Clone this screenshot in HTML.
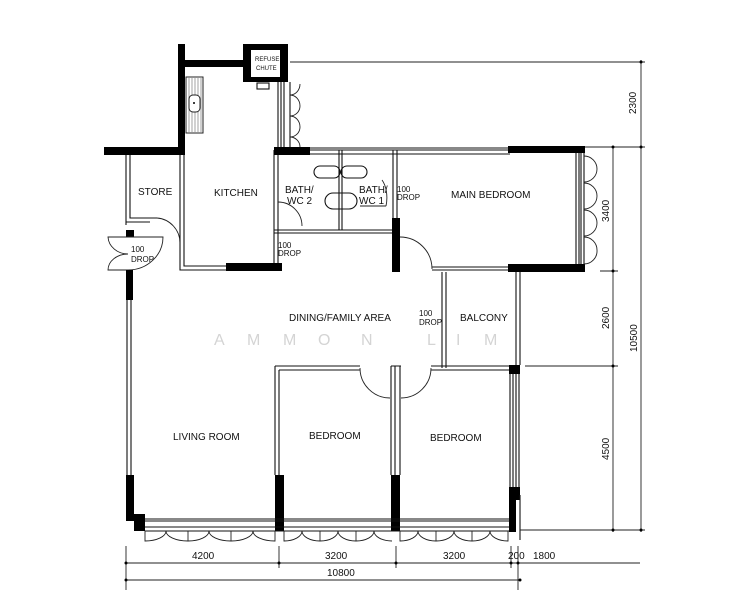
<!DOCTYPE html>
<html><head><meta charset="utf-8"><style>
html,body{margin:0;padding:0;background:#fff;}
svg{display:block;}
text{font-family:"Liberation Sans",sans-serif;font-size:10px;fill:#111;}
.l{fill:none;stroke:#111;stroke-width:1.1;}
.t{fill:none;stroke:#222;stroke-width:0.9;}
.d{fill:none;stroke:#222;stroke-width:0.9;}
.w{font-size:16px;fill:#d4d4d4;}
</style></head><body>
<svg width="735" height="600" viewBox="0 0 735 600" xmlns="http://www.w3.org/2000/svg">
<rect x="178" y="44" width="7" height="110" fill="#000"/>
<rect x="185" y="60" width="60" height="7" fill="#000"/>
<rect x="243" y="44" width="45" height="38" fill="#000"/>
<rect x="251" y="50" width="29" height="27" fill="#fff"/>
<text x="255" y="61" style="font-size:6px">REFUSE</text>
<text x="256" y="70" style="font-size:6px">CHUTE</text>
<rect x="257" y="83" width="12" height="6" class="l"/>
<rect x="186" y="77" width="17" height="56" fill="#fff" stroke="#222"/>
<path d="M189 78V132M192 78V132M195 78V132M198 78V132M201 78V132" stroke="#666" stroke-width="0.6"/>
<rect x="189" y="95" width="11" height="17" rx="4" fill="#fff" stroke="#222"/>
<circle cx="194" cy="103" r="1" fill="#000"/>
<path class="l" d="M278 82V147M281 82V147M284 82V147M290 82V147"/>
<path class="t" d="M300 84A10 11 0 0 1 290 95M300 106A10 11 0 0 0 290 95M300 106A10 10 0 0 1 290 116M300 127A10 11 0 0 0 290 116M300 127A10 10 0 0 1 290 137M300 147A10 10 0 0 0 290 137"/>
<rect x="104" y="147" width="81" height="8" fill="#000"/>
<path class="l" d="M126 155V225M130 155V218H157M126 222H150"/>
<path class="t" d="M157 218A25 25 0 0 1 180 243"/>
<path class="l" d="M180 155V270H228M184 155V266H228M278 150V268M274 150V268"/>
<rect x="226" y="263" width="56" height="8" fill="#000"/>
<rect x="274" y="147" width="36" height="8" fill="#000"/>
<path class="l" d="M310 148H510M310 150H510M310 154H510M274 230H395M274 233H395M339 150V230M342 150V230M393 150V218M397 150V218"/>
<rect x="392" y="218" width="8" height="54" fill="#000"/>
<rect x="314" y="166" width="26" height="12" rx="6" class="l"/>
<rect x="341" y="166" width="26" height="12" rx="6" class="l"/>
<rect x="325" y="193" width="32" height="16" rx="8" class="l"/>
<path class="t" d="M278 202A24 24 0 0 1 302 226"/>
<path class="t" d="M360 206H386M386 206A12 22 0 0 0 382 180"/>
<text x="285" y="193">BATH/</text><text x="287" y="204">WC 2</text>
<text x="359" y="193">BATH/</text><text x="359" y="204">WC 1</text>
<text x="397" y="192" style="font-size:8px">100</text><text x="397" y="200" style="font-size:8px">DROP</text>
<text x="278" y="248" style="font-size:8px">100</text><text x="278" y="256" style="font-size:8px">DROP</text>
<rect x="508" y="146" width="77" height="7" fill="#000"/>
<rect x="508" y="264" width="77" height="8" fill="#000"/>
<path class="l" d="M432 267H508M432 270H508M576 153V264M579 153V264M581 153V264M584 153V264"/>
<path class="t" d="M400 237A32 32 0 0 1 432 269"/>
<path class="t" d="M584 156A13 13 0 0 1 597 169A13 13 0 0 1 584 182M584 183A13 13 0 0 1 597 196A13 13 0 0 1 584 209M584 210A13 13 0 0 1 597 223A13 13 0 0 1 584 236M584 237A13 13 0 0 1 597 250A13 13 0 0 1 584 264"/>
<path class="l" d="M442 272V368M446 272V368M516 272V365M520 272V365"/>
<text x="419" y="316" style="font-size:8px">100</text><text x="419" y="325" style="font-size:8px">DROP</text>
<rect x="126" y="230" width="8" height="7" fill="#000"/>
<path class="t" d="M128 237H108A20 18 0 0 0 128 254M128 254A20 16 0 0 0 108 270H128M128 237H163A35 33 0 0 1 128 270"/>
<text x="131" y="252" style="font-size:8px">100</text><text x="131" y="262" style="font-size:8px">DROP</text>
<rect x="126" y="270" width="7" height="30" fill="#000"/>
<path class="l" d="M127 300V475M131 300V475"/>
<rect x="126" y="475" width="8" height="46" fill="#000"/>
<rect x="134" y="514" width="11" height="17" fill="#000"/>
<path class="l" d="M275 366V475M279 370V475M275 366H360M279 370H360M391 366V475M395 366V475M400 366V475M391 366H401M431 366H510M431 370H510"/>
<path class="t" d="M360 368A30 30 0 0 0 390 398M431 368A30 30 0 0 1 401 398"/>
<rect x="275" y="475" width="9" height="56" fill="#000"/>
<rect x="391" y="475" width="9" height="56" fill="#000"/>
<rect x="509" y="365" width="11" height="9" fill="#000"/>
<path class="l" d="M510 374V487M513 374V487M516 374V487M519 374V487"/>
<rect x="509" y="487" width="11" height="13" fill="#000"/>
<rect x="509" y="500" width="7" height="32" fill="#000"/>
<path class="l" d="M520 495V540"/>
<path class="l" d="M145 519H509M145 521H509M145 527H509M145 531H509"/>
<path class="t" d="M145 531V541A21 10 0 0 0 166 531M188 541A22 10 0 0 1 166 531M188 531V541A21 10 0 0 0 209 531M231 541A22 10 0 0 1 209 531M231 531V541A22 10 0 0 0 253 531M275 531V541A22 10 0 0 1 253 531"/>
<path class="t" d="M284 531V541A18 10 0 0 0 302 531M320 531V541A18 10 0 0 1 302 531M320 541A18 10 0 0 0 338 531M356 531V541A18 10 0 0 1 338 531M356 541A18 10 0 0 0 374 531M392 541A18 10 0 0 1 374 531"/>
<path class="t" d="M400 531V541A18 10 0 0 0 418 531M436 531V541A18 10 0 0 1 418 531M436 541A18 10 0 0 0 454 531M472 531V541A18 10 0 0 1 454 531M472 541A18 10 0 0 0 490 531M508 531V541A18 10 0 0 1 490 531"/>
<path class="d" d="M126 546V590M279 546V568M396 546V568M511 546V568M518 546V590M126 563H640M126 580H520M290 62H645M585 147H645M600 271H618M525 366H618M520 530H645M613 147V532M641 60V532"/>
<g fill="#000"><circle cx="126" cy="563" r="1.5"/><circle cx="279" cy="563" r="1.5"/><circle cx="396" cy="563" r="1.5"/><circle cx="511" cy="563" r="1.5"/><circle cx="518" cy="563" r="1.5"/><circle cx="126" cy="580" r="1.5"/><circle cx="520" cy="580" r="1.5"/>
<circle cx="613" cy="147" r="1.5"/><circle cx="613" cy="271" r="1.5"/><circle cx="613" cy="366" r="1.5"/><circle cx="613" cy="530" r="1.5"/><circle cx="641" cy="62" r="1.5"/><circle cx="641" cy="147" r="1.5"/><circle cx="641" cy="530" r="1.5"/></g>
<g style="font-size:9px"><text x="192" y="559">4200</text><text x="325" y="559">3200</text><text x="443" y="559">3200</text><text x="508" y="559">200</text><text x="533" y="559">1800</text><text x="327" y="576">10800</text></g>
<g style="font-size:9px"><text transform="translate(636,114) rotate(-90)">2300</text><text transform="translate(609,222) rotate(-90)">3400</text><text transform="translate(609,329) rotate(-90)">2600</text><text transform="translate(609,460) rotate(-90)">4500</text><text transform="translate(637,352) rotate(-90)">10500</text></g>
<text x="138" y="195">STORE</text>
<text x="214" y="196">KITCHEN</text>
<text x="451" y="198">MAIN BEDROOM</text>
<text x="289" y="321">DINING/FAMILY AREA</text>
<text x="460" y="321">BALCONY</text>
<text x="173" y="440">LIVING ROOM</text>
<text x="309" y="439">BEDROOM</text>
<text x="430" y="441">BEDROOM</text>
<g class="w"><text class="w" x="214" y="345">A</text><text class="w" x="247" y="345">M</text><text class="w" x="283" y="345">M</text><text class="w" x="318" y="345">O</text><text class="w" x="361" y="345">N</text><text class="w" x="427" y="345">L</text><text class="w" x="456" y="345">I</text><text class="w" x="484" y="345">M</text></g>
</svg>
</body></html>
